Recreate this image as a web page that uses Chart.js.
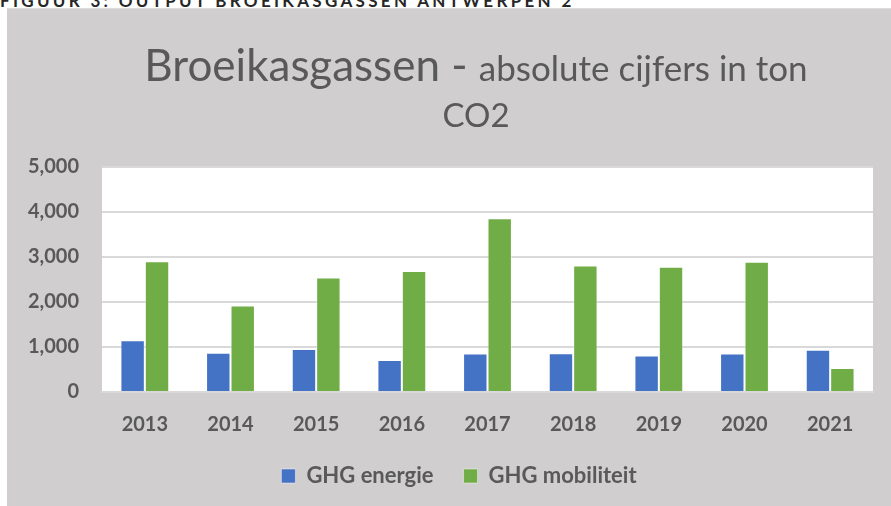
<!DOCTYPE html>
<html>
<head>
<meta charset="utf-8">
<script src="https://cdn.jsdelivr.net/npm/chart.js@4.4.1/dist/chart.umd.min.js"></script>
<style>
  body { margin: 0; background: #fff; width: 891px; height: 506px; overflow: hidden; position: relative; font-family: Lato, sans-serif; }
  #caption { position: absolute; left: 0; top: -10px; font: bold 17px Lato; color: #262626; letter-spacing: 3.3px; white-space: nowrap; }
  #panel { position: absolute; left: 7px; top: 8px; width: 884px; height: 498px; background: #d0cece; border-top: 1px solid #dddbdb; box-sizing: border-box; }
  .tline { position: absolute; left: 0; width: 938px; text-align: center; color: #595959; white-space: nowrap; }
  #t1 { top: 31px; font-size: 44px; line-height: 48px; }
  #t1 .small { font-size: 35px; }
  #t2 { top: 89px; font-size: 33px; line-height: 33px; }
  #chartWrap { position: absolute; left: 0; top: 0; width: 884px; height: 498px; }
</style>
</head>
<body>
<div id="caption">FIGUUR 3: OUTPUT BROEIKASGASSEN ANTWERPEN 2</div>
<div id="panel">
  <div id="chartWrap"><canvas id="chart"></canvas></div>
  <div class="tline" id="t1">Broeikasgassen - <span class="small">absolute cijfers in ton</span></div>
  <div class="tline" id="t2">CO2</div>
</div>
<script>
// jaren en waarden (ton CO2)
const years = ['2013', '2014', '2015', '2016', '2017', '2018', '2019', '2020', '2021'];
const ghgEnergie = [1150, 875, 955, 710, 855, 860, 810, 855, 940];
const ghgMobiliteit = [2905, 1920, 2545, 2690, 3860, 2810, 2785, 2895, 535];

const yTicks = [0, 1000, 2000, 3000, 4000, 5000];

// witte achtergrond voor het plotgebied
const plotBg = {
  id: 'plotBg',
  beforeDraw(chart) {
    const a = chart.chartArea;
    const ctx = chart.ctx;
    ctx.save();
    ctx.fillStyle = '#ffffff';
    ctx.fillRect(a.left, a.top, a.right - a.left, a.bottom - a.top);
    ctx.restore();
  }
};

// legenda iets naar rechts, zoals in het origineel
const legendShift = {
  id: 'legendShift',
  afterLayout(chart) {
    if (chart.legend) {
      chart.legend.left += 19;
      chart.legend.right += 19;
    }
  }
};

const ctx = document.getElementById('chart').getContext('2d');
new Chart(ctx, {
  type: 'bar',
  data: {
    labels: years,
    datasets: [
      {
        label: 'GHG energie',
        data: ghgEnergie,
        backgroundColor: '#4472c4',
        borderColor: 'rgba(255,255,255,0.45)',
        borderWidth: 1,
        categoryPercentage: 0.57,
        barPercentage: 1.0
      },
      {
        label: 'GHG mobiliteit',
        data: ghgMobiliteit,
        backgroundColor: '#70ad47',
        borderColor: 'rgba(255,255,255,0.45)',
        borderWidth: 1,
        categoryPercentage: 0.57,
        barPercentage: 1.0
      }
    ]
  },
  options: {
    responsive: true,
    maintainAspectRatio: false,
    animation: false,
    layout: { padding: { top: 158, right: 18, bottom: 10, left: 0 } },
    scales: {
      x: {
        grid: { display: false, drawTicks: false },
        border: { display: true, color: '#d9d9d9', width: 2 },
        ticks: { color: '#595959', font: { family: 'Lato', size: 20, weight: 'bold' }, padding: 21 },
        afterFit(scale) { scale.height = 43; }
      },
      y: {
        min: 0,
        max: 5000,
        afterBuildTicks(scale) { scale.ticks = yTicks.map(v => ({ value: v })); },
        grid: { color: '#d9d9d9', lineWidth: 2, drawTicks: false },
        border: { display: false },
        ticks: {
          color: '#595959',
          font: { family: 'Lato', size: 20, weight: 'bold' },
          padding: 23,
          callback: v => v.toLocaleString('en-US')
        },
        afterFit(scale) { scale.width = 95; }
      }
    },
    plugins: {
      legend: {
        position: 'bottom',
        labels: {
          boxWidth: 14,
          boxHeight: 14,
          padding: 30,
          color: '#595959',
          font: { family: 'Lato', size: 22, weight: 'bold' }
        }
      },
      tooltip: { enabled: false }
    }
  },
  plugins: [plotBg, legendShift]
});
</script>
</body>
</html>
